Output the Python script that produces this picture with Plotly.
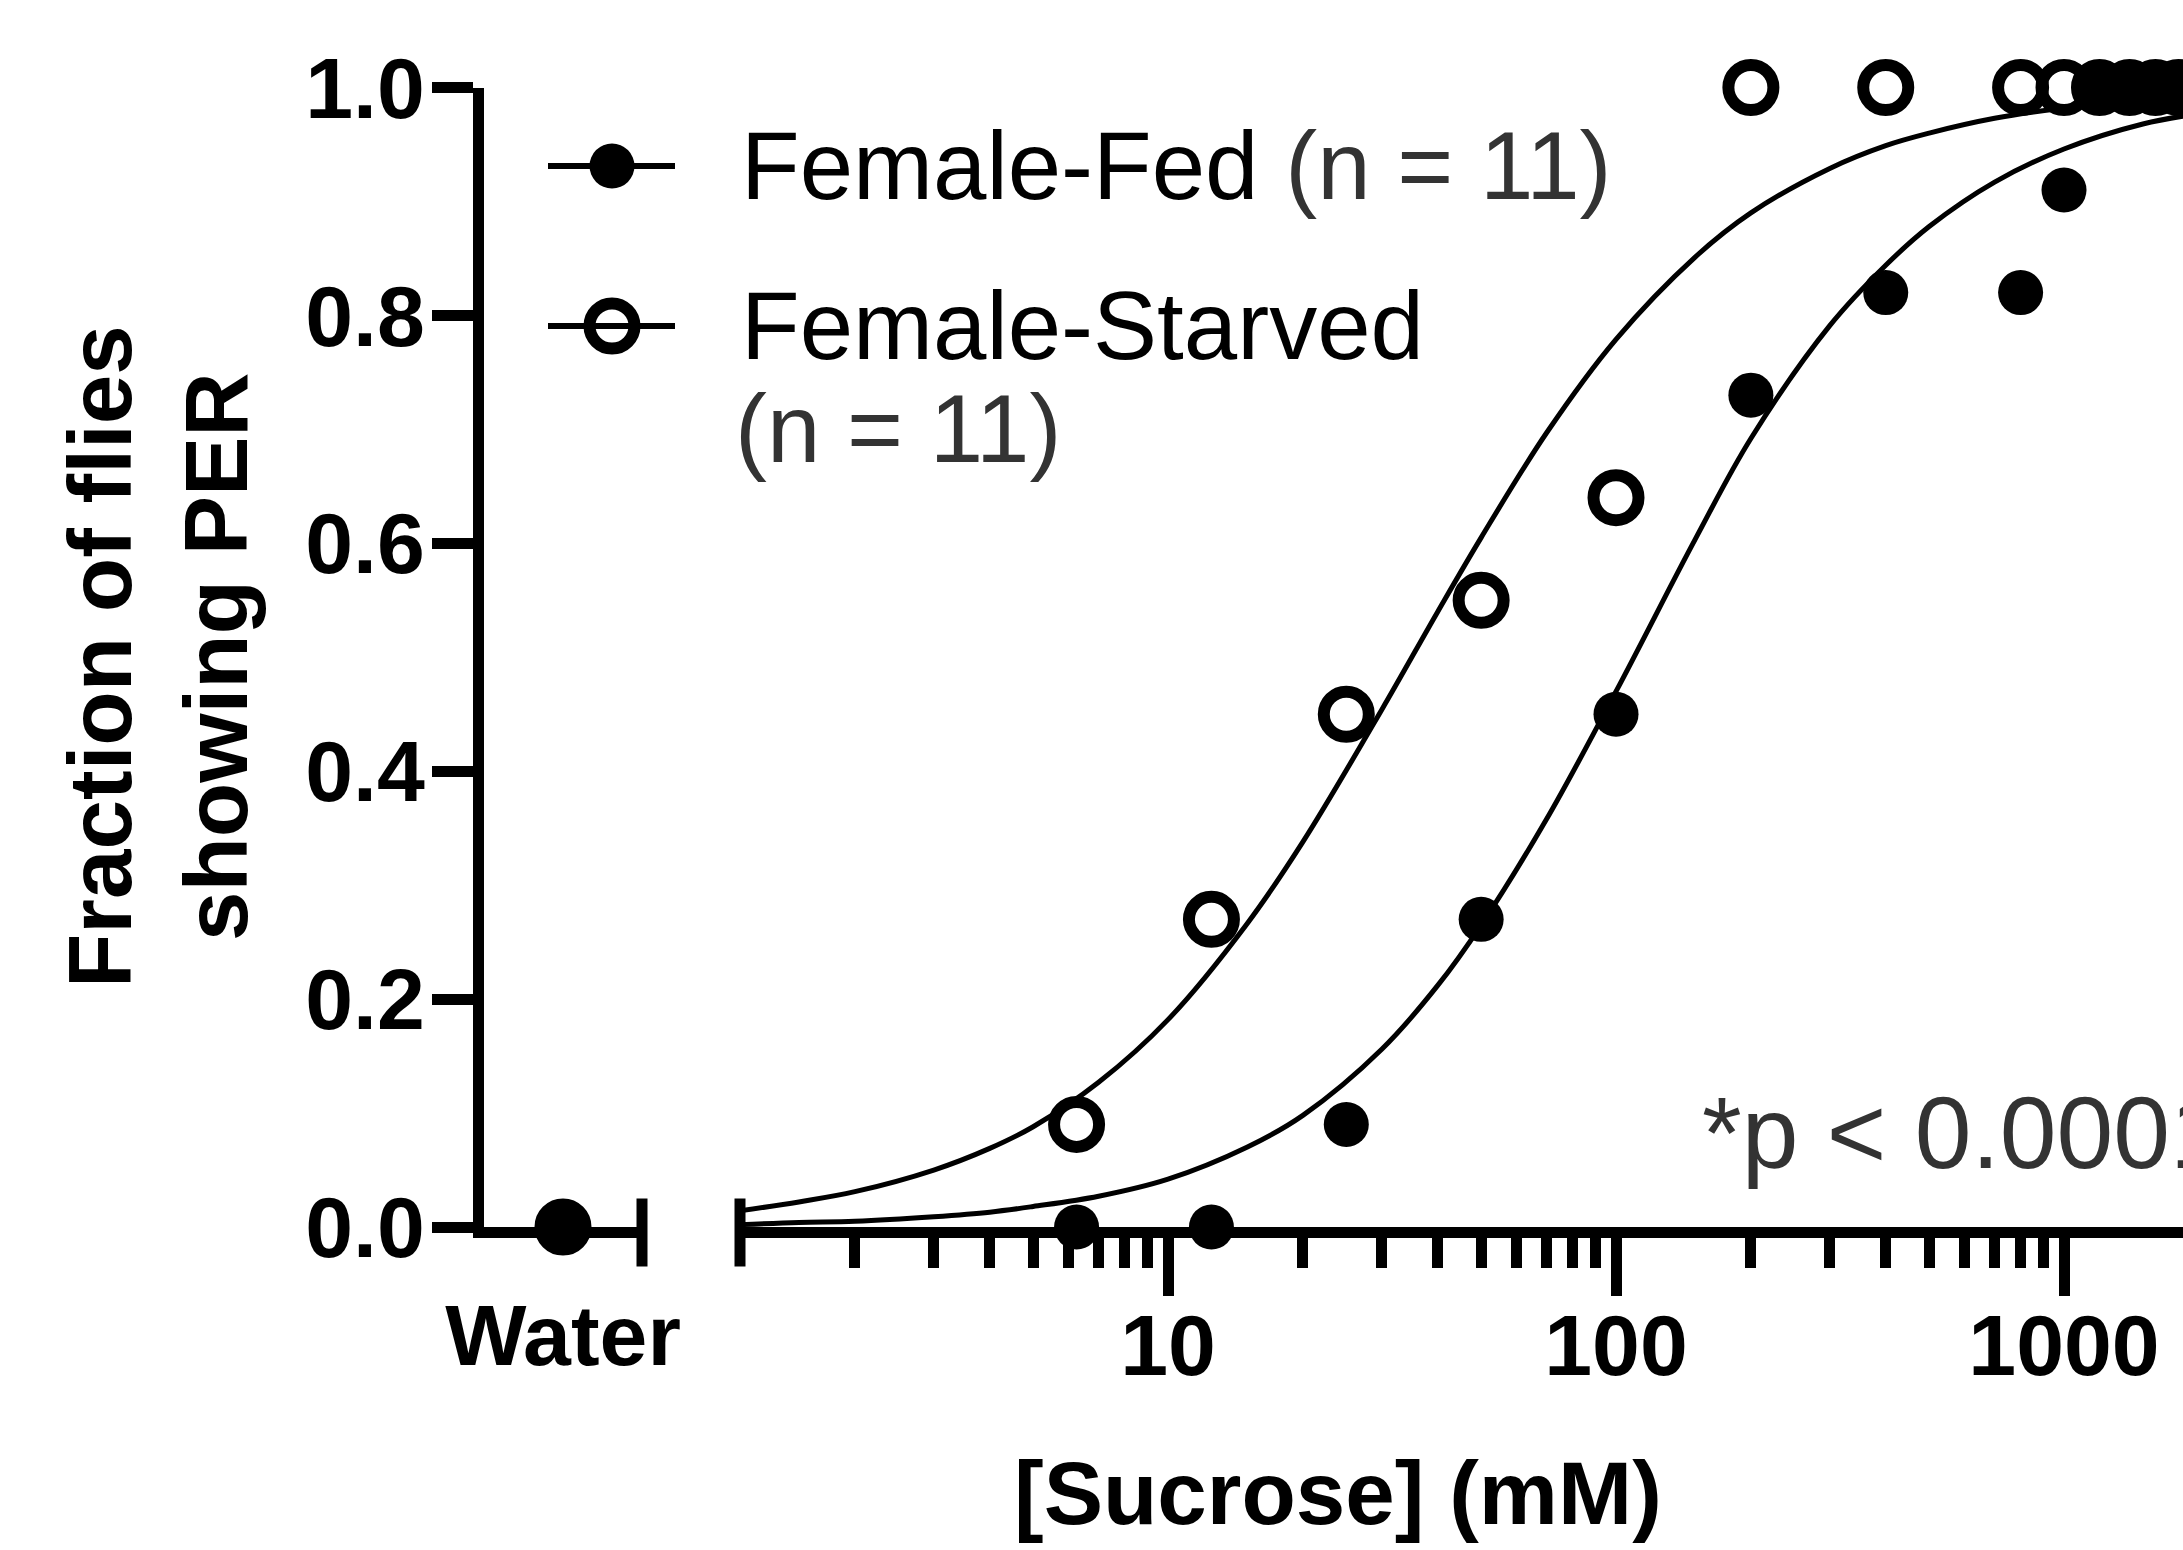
import plotly.graph_objects as go

W, H = 2183, 1550

# ---------------- data ----------------
water_tick = ["Water"]
water_fed = [0.0]
water_starved = [0.0]

sucrose_x = [6.25, 12.5, 25, 50, 100, 200, 400, 800, 1000, 1200, 1400, 1600, 1800]
fed_y = [0.0, 0.0, 0.09, 0.27, 0.45, 0.73, 0.82, 0.82, 0.91, 1.0, 1.0, 1.0, 1.0]
starved_y = [0.09, 0.27, 0.45, 0.55, 0.64, 1.0, 1.0, 1.0, 1.0, 1.0, 1.0, 1.0, 1.0]

fit_x = [1.1, 1.5, 2, 3, 4, 5, 7, 10, 15, 20, 30, 40, 50, 70, 100, 150, 200,
         300, 400, 500, 700, 1000, 1500, 2000]
fit_starved = [0.014, 0.022, 0.031, 0.050, 0.069, 0.088, 0.127, 0.182, 0.266, 0.338,
               0.454, 0.540, 0.605, 0.697, 0.779, 0.851, 0.890,
               0.929, 0.949, 0.960, 0.973, 0.982, 0.989, 0.992]
fit_fed = [0.002, 0.004, 0.005, 0.009, 0.013, 0.018, 0.027, 0.042, 0.070, 0.098,
           0.156, 0.212, 0.265, 0.358, 0.470, 0.603, 0.692,
           0.791, 0.844, 0.878, 0.917, 0.946, 0.968, 0.977]

y_ticks = [0, 0.2, 0.4, 0.6, 0.8, 1.0]
y_ticktext = ["0.0", "0.2", "0.4", "0.6", "0.8", "1.0"]
x_ticks = [10, 100, 1000]
x_ticktext = ["10", "100", "1000"]
x_minor = [2, 3, 4, 5, 6, 7, 8, 9, 20, 30, 40, 50, 60, 70, 80, 90,
           200, 300, 400, 500, 600, 700, 800, 900, 2000]

legend_names = ["Female-Fed", "Female-Starved"]
legend_n = ["(n = 11)", "(n = 11)"]
y_title = "Fraction of flies<br>showing PER"
x_title = "[Sucrose] (mM)"
p_text = "*p < 0.0001"

# ---------------- helpers ----------------
def fx(p):
    return p / W

def fy(p):
    return 1 - p / H

FONT = "Liberation Sans, Arial, Helvetica, sans-serif"
GRAY = "#333333"
LW = 11
MS = 45

fig = go.Figure()

# water segment
fig.add_trace(go.Scatter(x=[0], y=water_starved, xaxis="x", yaxis="y", mode="markers",
                         marker=dict(symbol="circle-open", size=MS, color="black", line=dict(width=12)),
                         cliponaxis=False, showlegend=False))
fig.add_trace(go.Scatter(x=[0], y=water_fed, xaxis="x", yaxis="y", mode="markers",
                         marker=dict(symbol="circle", size=MS, color="black", line=dict(width=0)),
                         cliponaxis=False, showlegend=False))

# fitted curves
for fy_vals in (fit_starved, fit_fed):
    fig.add_trace(go.Scatter(x=fit_x, y=fy_vals, xaxis="x2", yaxis="y", mode="lines",
                             line=dict(color="black", width=5, shape="spline", smoothing=1.0),
                             showlegend=False))

# points
fig.add_trace(go.Scatter(x=sucrose_x, y=starved_y, xaxis="x2", yaxis="y", mode="markers",
                         marker=dict(symbol="circle-open", size=MS, color="black", line=dict(width=12)),
                         cliponaxis=False, showlegend=False, name=legend_names[1]))
fig.add_trace(go.Scatter(x=sucrose_x, y=fed_y, xaxis="x2", yaxis="y", mode="markers",
                         marker=dict(symbol="circle", size=MS, color="black", line=dict(width=0)),
                         cliponaxis=False, showlegend=False, name=legend_names[0]))

tickfont = dict(family=FONT, size=86, color="black", weight="bold")

def axis(**kw):
    d = dict(showline=True, linewidth=LW, linecolor="black", showgrid=False,
             zeroline=False, ticks="outside", tickwidth=LW, tickcolor="black",
             tickfont=tickfont, fixedrange=True, automargin=False)
    d.update(kw)
    return d

fig.update_layout(
    width=W, height=H,
    margin=dict(l=0, r=0, t=0, b=0, pad=0, autoexpand=False),
    paper_bgcolor="white", plot_bgcolor="white",
    showlegend=False,
    xaxis=axis(domain=[fx(484), fx(642)], range=[-1, 1], anchor="y",
               tickmode="array", tickvals=[0], ticktext=water_tick, ticklen=41,
               tickcolor="rgba(0,0,0,0)", ticklabelstandoff=-17),
    xaxis2=axis(type="log", domain=[fx(740), 1.0], range=[0.0446, 3.2656],
                anchor="y", tickmode="array", tickvals=x_ticks, ticktext=x_ticktext, ticklen=58,
                ticklabelstandoff=-24,
                minor=dict(tickmode="array", tickvals=x_minor, ticks="outside", ticklen=30,
                           tickwidth=LW, tickcolor="black", showgrid=False)),
    yaxis=axis(domain=[fy(1227), fy(87.5)], range=[0, 1.0], anchor="x",
               tickmode="array", tickvals=y_ticks, ticktext=y_ticktext, ticklen=41,
               ticklabelstandoff=-10),
)

# axis end caps (crossing the axis line)
line_y = fy(1232.5)
for ref, xv in (("x domain", 1), ("x2 domain", 0)):
    fig.add_shape(type="line", xref=ref, x0=xv, x1=xv, yref="paper", ysizemode="pixel",
                  yanchor=line_y, y0=-34, y1=34, line=dict(color="black", width=LW))

# legend glyphs
rows_y = [166, 326]
for i, ry in enumerate(rows_y):
    fig.add_shape(type="line", xref="paper", yref="paper", x0=fx(548), x1=fx(675),
                  y0=fy(ry), y1=fy(ry), line=dict(color="black", width=6))
    filled = (i == 0)
    fig.add_shape(type="circle", xref="paper", yref="paper",
                  xsizemode="pixel", ysizemode="pixel", xanchor=fx(612), yanchor=fy(ry),
                  x0=-22.5, x1=22.5, y0=-22.5, y1=22.5,
                  fillcolor="black" if filled else "rgba(0,0,0,0)",
                  line=dict(color="black", width=0 if filled else 12))

legfont = dict(family=FONT, size=96, color="black")
fig.add_annotation(x=fx(739), y=fy(165), xref="paper", yref="paper", xanchor="left",
                   yanchor="middle", showarrow=False, font=legfont,
                   text=f"{legend_names[0]} <span style='color:{GRAY}'>{legend_n[0]}</span>")
fig.add_annotation(x=fx(739), y=fy(325), xref="paper", yref="paper", xanchor="left",
                   yanchor="middle", showarrow=False, font=legfont, text=legend_names[1])
fig.add_annotation(x=fx(733), y=fy(428), xref="paper", yref="paper", xanchor="left",
                   yanchor="middle", showarrow=False, font=dict(family=FONT, size=96, color=GRAY),
                   text=legend_n[1])

# p value
fig.add_annotation(x=fx(1700), y=fy(1133), xref="paper", yref="paper", xanchor="left",
                   yanchor="middle", showarrow=False,
                   font=dict(family=FONT, size=102, color=GRAY), text=p_text)

# axis titles
fig.add_annotation(x=fx(158), y=fy(657), xref="paper", yref="paper", xanchor="center",
                   yanchor="middle", showarrow=False, textangle=-90,
                   font=dict(family=FONT, size=89, color="black", weight="bold"), text=y_title)
fig.add_annotation(x=fx(1338), y=fy(1493), xref="paper", yref="paper", xanchor="center",
                   yanchor="middle", showarrow=False,
                   font=dict(family=FONT, size=89, color="black", weight="bold"), text=x_title)

fig.write_html("out.html")
